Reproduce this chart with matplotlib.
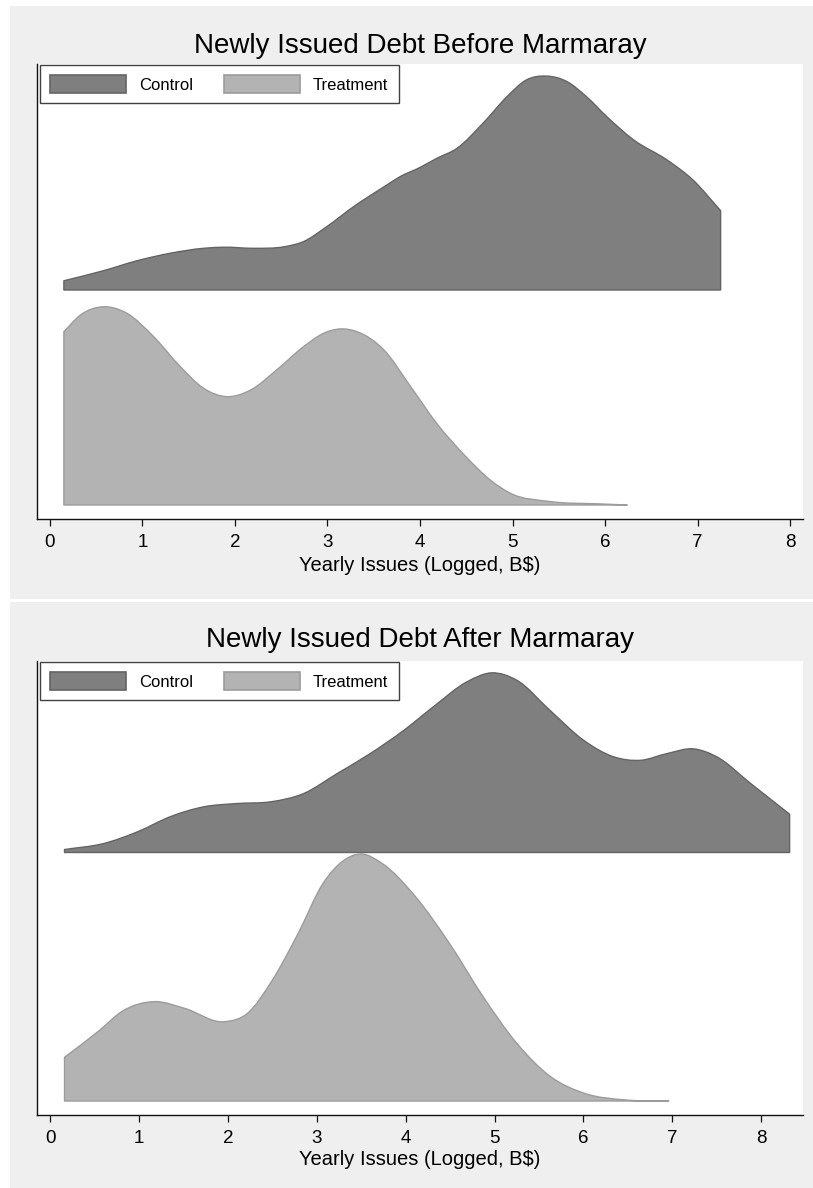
import numpy as np
import matplotlib
matplotlib.use("Agg")
import matplotlib.pyplot as plt
from matplotlib.path import Path
from matplotlib.patches import PathPatch, Patch, Rectangle

plt.rcParams['font.family'] = ['Liberation Sans', 'DejaVu Sans']

# ---------------------------------------------------------------- data
groups = ["Control", "Treatment"]
titles = ["Newly Issued Debt Before Marmaray", "Newly Issued Debt After Marmaray"]
x_label = "Yearly Issues (Logged, B$)"
x_ticks = [0, 1, 2, 3, 4, 5, 6, 7, 8]

# kernel density curves, heights scaled so that ridge spacing = 1
before_control_x = [0.15, 0.58, 0.94, 1.30, 1.66, 1.88, 2.20, 2.53, 2.74, 2.99, 3.28,
                    3.64, 3.78, 4.00, 4.18, 4.40, 4.68, 4.94, 5.15, 5.37, 5.59, 5.80,
                    6.02, 6.31, 6.67, 6.95, 7.25]
before_control_d = [0.043, 0.090, 0.136, 0.171, 0.194, 0.199, 0.194, 0.201, 0.225, 0.294, 0.387,
                    0.488, 0.526, 0.570, 0.612, 0.659, 0.775, 0.899, 0.977, 0.995, 0.969, 0.899,
                    0.806, 0.698, 0.605, 0.512, 0.369]

before_treat_x = [0.15, 0.33, 0.58, 0.83, 1.12, 1.41, 1.66, 1.91, 2.17, 2.45, 2.74, 2.96,
                  3.14, 3.32, 3.61, 3.90, 4.18, 4.50, 4.76, 4.97, 5.41, 5.95, 6.24]
before_treat_d = [0.806, 0.884, 0.922, 0.892, 0.783, 0.643, 0.543, 0.504, 0.535, 0.628, 0.736, 0.799,
                  0.819, 0.806, 0.721, 0.550, 0.380, 0.223, 0.116, 0.056, 0.016, 0.005, 0.0]

after_control_x = [0.16, 0.60, 0.98, 1.35, 1.73, 2.10, 2.48, 2.85, 3.23, 3.60, 3.98, 4.31,
                   4.69, 4.97, 5.25, 5.62, 6.00, 6.34, 6.64, 6.94, 7.24, 7.50, 7.88, 8.32]
after_control_d = [0.012, 0.036, 0.083, 0.144, 0.184, 0.197, 0.204, 0.237, 0.318, 0.398, 0.492, 0.586,
                   0.687, 0.723, 0.693, 0.573, 0.452, 0.385, 0.371, 0.398, 0.417, 0.385, 0.278, 0.154]

after_treat_x = [0.16, 0.56, 0.80, 1.18, 1.51, 1.96, 2.22, 2.50, 2.79, 3.07, 3.31, 3.50,
                 3.73, 4.11, 4.49, 4.87, 5.25, 5.63, 6.01, 6.48, 6.96]
after_treat_d = [0.176, 0.286, 0.359, 0.400, 0.373, 0.319, 0.353, 0.487, 0.675, 0.876, 0.970, 0.994,
                 0.957, 0.822, 0.635, 0.420, 0.232, 0.098, 0.031, 0.004, 0.0]

# ---------------------------------------------------------------- style
FILL = {"Control": "#7f7f7f", "Treatment": "#b3b3b3"}
EDGE = {"Control": "#646464", "Treatment": "#9c9c9c"}
BG = "#efefef"

W, H = 813, 1188
fig = plt.figure(figsize=(W / 100, H / 100), dpi=100)
fig.patch.set_facecolor("white")


def px_rect(x0, y0, x1, y1):
    """Figure-fraction rectangle from pixel corners (top-left origin)."""
    return [x0 / W, 1 - y1 / H, (x1 - x0) / W, (y1 - y0) / H]


def ridge_path(x, d, base):
    """Closed area under a smooth (cubic Hermite) curve through (x, d), lifted to 'base'."""
    x = np.asarray(x, float)
    y = np.asarray(d, float) + base
    n = len(x)
    h = np.diff(x)
    s = np.diff(y) / h
    m = np.empty(n)
    # three-point derivative for uneven spacing
    m[1:-1] = (h[:-1] * s[1:] + h[1:] * s[:-1]) / (h[:-1] + h[1:])
    m[0] = s[0]
    m[-1] = s[-1]
    verts = [(x[0], base), (x[0], y[0])]
    codes = [Path.MOVETO, Path.LINETO]
    for i in range(n - 1):
        t = h[i] / 3
        verts += [(x[i] + t, y[i] + m[i] * t),
                  (x[i + 1] - t, y[i + 1] - m[i + 1] * t),
                  (x[i + 1], y[i + 1])]
        codes += [Path.CURVE4] * 3
    verts += [(x[-1], base), (x[0], base)]
    codes += [Path.LINETO, Path.CLOSEPOLY]
    return Path(verts, codes)


panels = [
    dict(title=titles[0], bg=(10, 6, 813, 599), ax=(37, 64, 803, 519),
         title_y=53.3, xlim=(-0.1405, 8.1405), ylim=(-0.0651, 2.0512),
         label_y=-0.1136,
         curves=[("Control", before_control_x, before_control_d, 1.0),
                 ("Treatment", before_treat_x, before_treat_d, 0.0)]),
    dict(title=titles[1], bg=(10, 602, 813, 1188), ax=(37, 661, 803, 1115),
         title_y=646.7, xlim=(-0.1497, 8.4705), ylim=(-0.0563, 1.7706),
         label_y=-0.110,
         curves=[("Control", after_control_x, after_control_d, 1.0),
                 ("Treatment", after_treat_x, after_treat_d, 0.0)]),
]

for p in panels:
    bx0, by0, bx1, by1 = p["bg"]
    fig.add_artist(Rectangle((bx0 / W, 1 - by1 / H), (bx1 - bx0) / W, (by1 - by0) / H,
                             transform=fig.transFigure, facecolor=BG, edgecolor="none",
                             zorder=-10))
    ax = fig.add_axes(px_rect(*p["ax"]))
    ax.set_facecolor("white")
    ax.set_xlim(*p["xlim"])
    ax.set_ylim(*p["ylim"])

    for name, xs, ds, base in p["curves"]:
        ax.add_patch(PathPatch(ridge_path(xs, ds, base), facecolor=FILL[name],
                               edgecolor=EDGE[name], linewidth=1.0, joinstyle="round"))

    for s in ("top", "right"):
        ax.spines[s].set_visible(False)
    for s in ("left", "bottom"):
        ax.spines[s].set_linewidth(1.0)
        ax.spines[s].set_color("#111111")
    ax.set_yticks([])
    ax.set_xticks(x_ticks)
    ax.tick_params(axis="x", length=5.0, width=0.9, color="#111111",
                   labelsize=13.5, pad=5.5)

    ax.set_xlabel(x_label, fontsize=14.5)
    ax.xaxis.label.set_va("baseline")
    ax.xaxis.set_label_coords(0.5, p["label_y"])

    fig.text(420 / W, 1 - p["title_y"] / H, p["title"], ha="center", va="baseline",
             fontsize=20)

    handles = [Patch(facecolor=FILL[g], edgecolor=EDGE[g], linewidth=1.2, label=g)
               for g in groups]
    leg = ax.legend(handles=handles, loc="upper left",
                    bbox_to_anchor=(2.7 / 766, 1 - 1 / 455), borderaxespad=0,
                    ncol=2, fontsize=12, handlelength=4.56, handleheight=1.25,
                    handletextpad=0.76, columnspacing=1.9, borderpad=0.62,
                    frameon=True, fancybox=False)
    leg.get_frame().set_edgecolor("#111111")
    leg.get_frame().set_linewidth(1.0)

fig.savefig("out.png", dpi=100)
